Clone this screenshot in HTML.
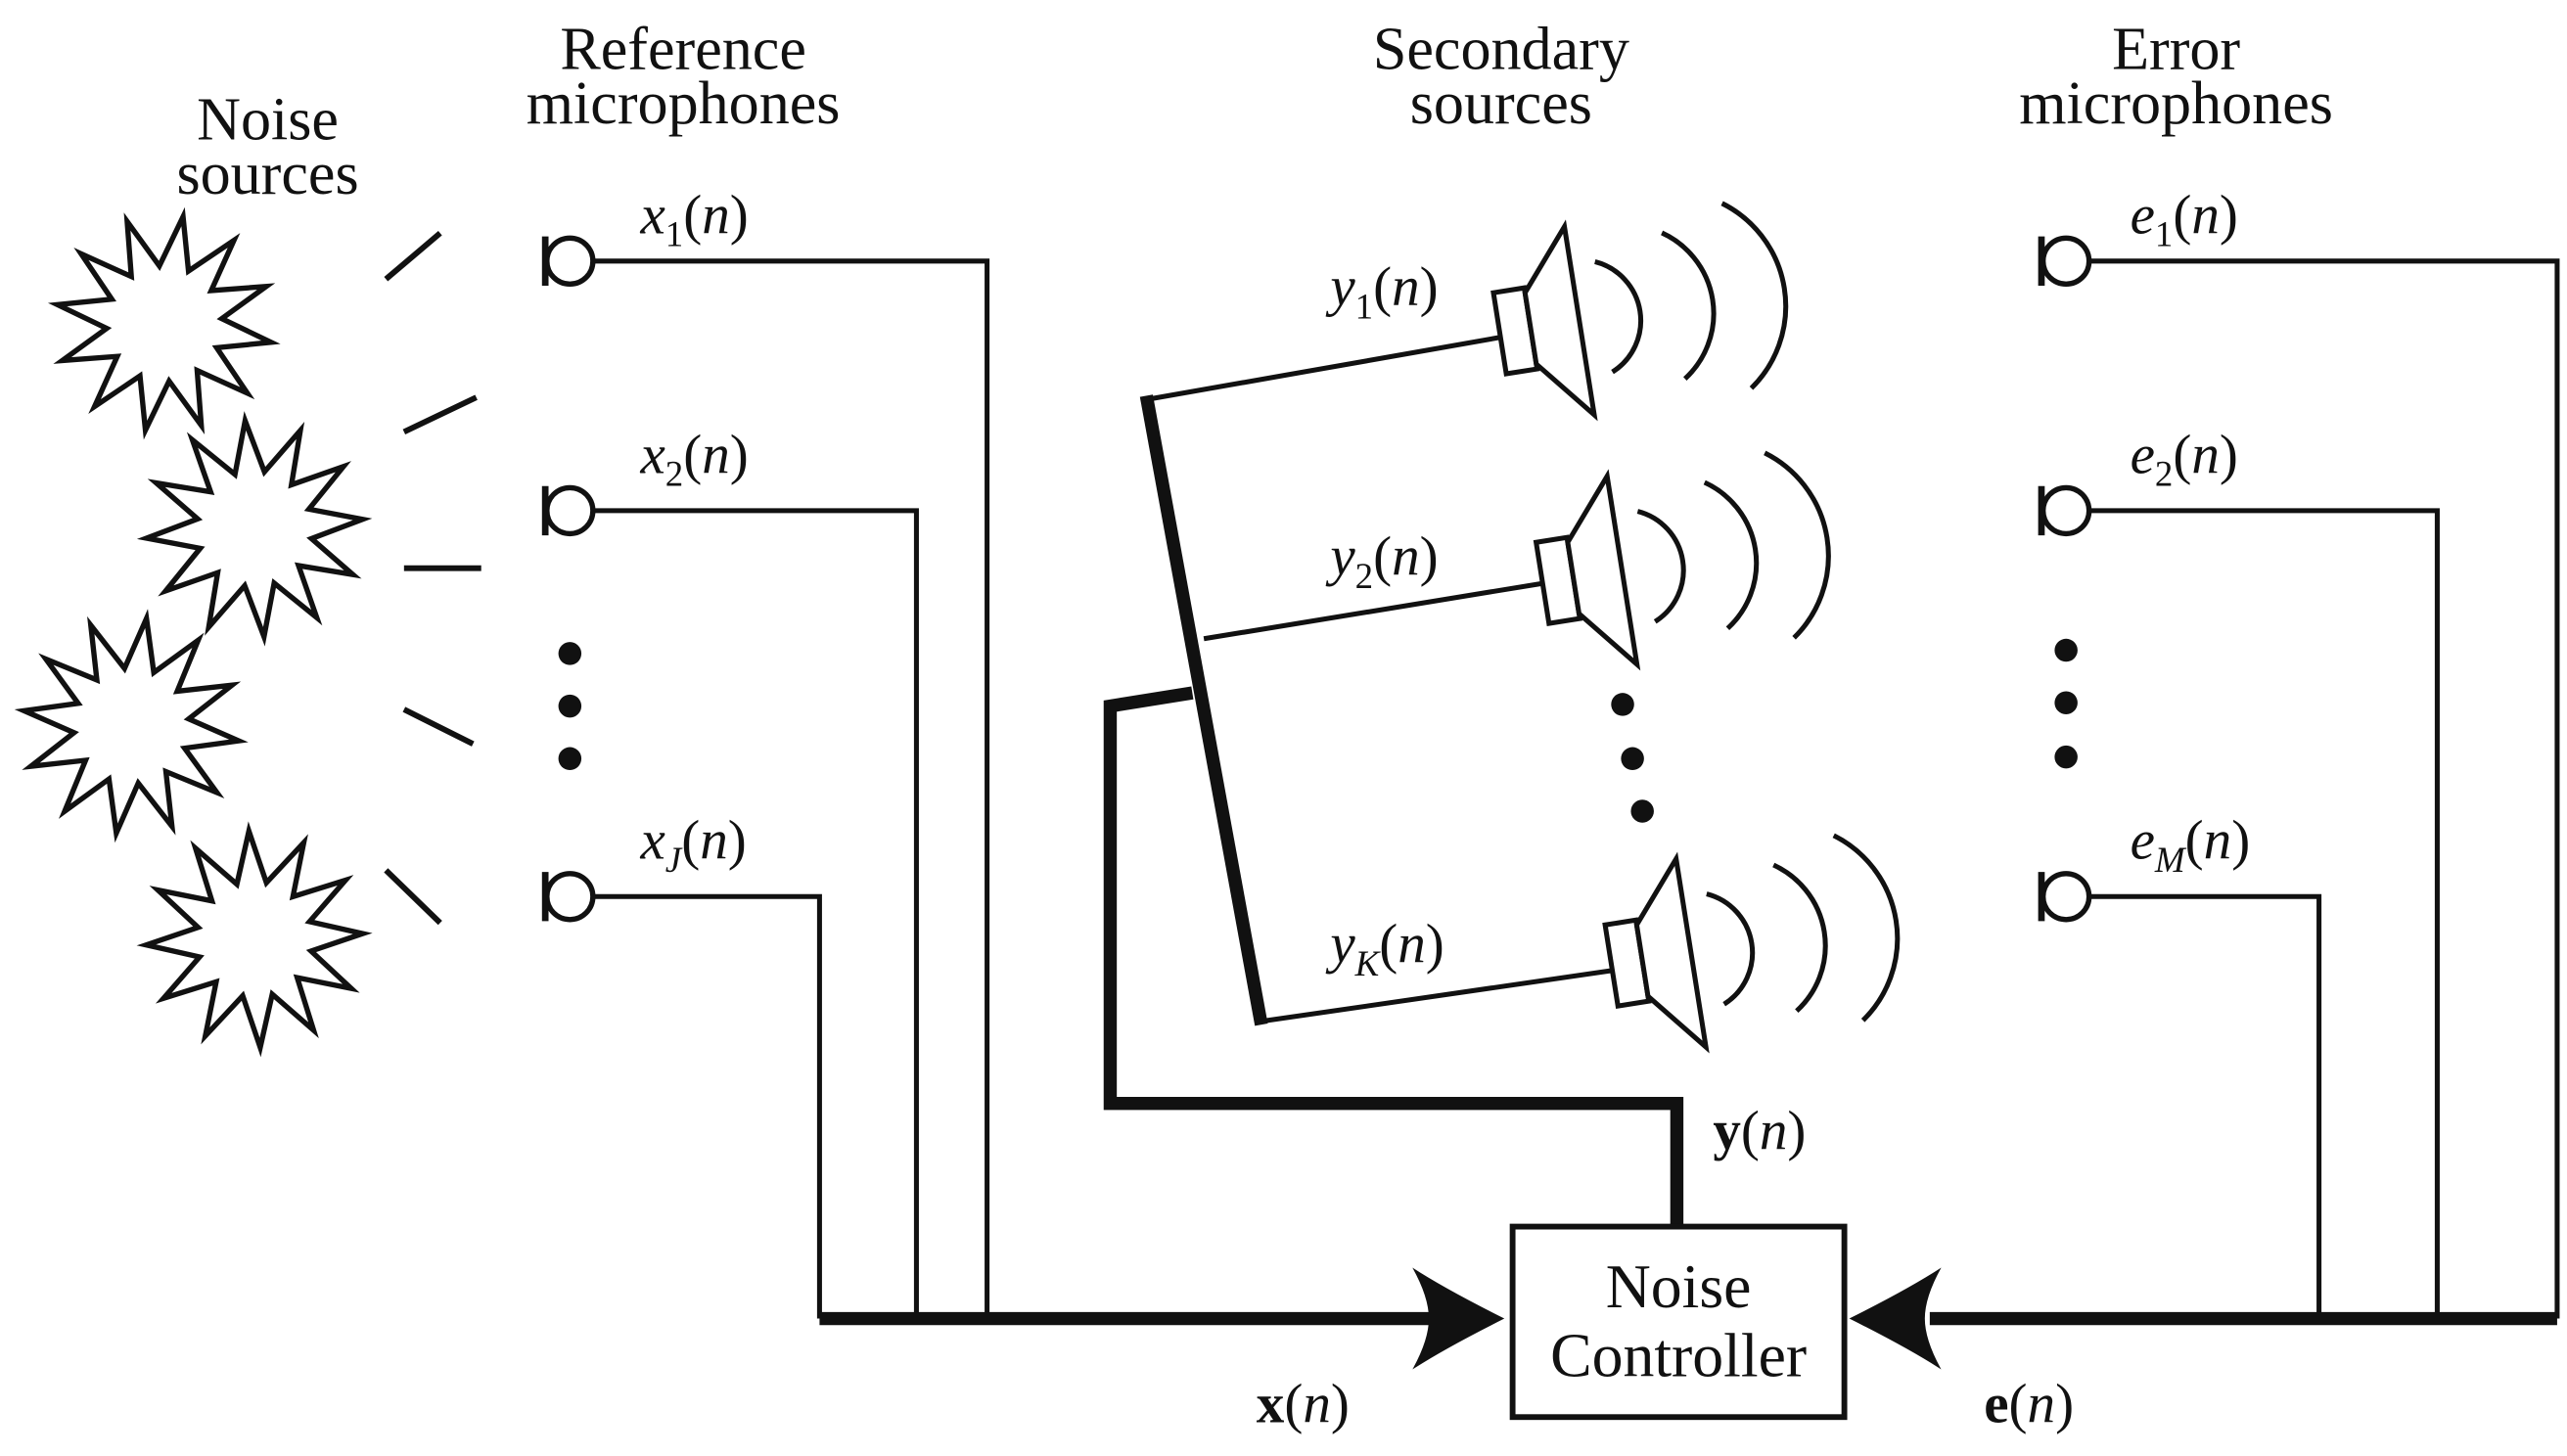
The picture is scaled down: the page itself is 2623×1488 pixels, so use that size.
<!DOCTYPE html>
<html><head><meta charset="utf-8"><style>
html,body{margin:0;padding:0;background:#fff;}
svg{display:block;}
text{font-family:"Liberation Serif","Times New Roman",serif;fill:#111;}
</style></head><body>
<svg width="2623" height="1488" viewBox="0 0 1563 886.7" preserveAspectRatio="none" xmlns="http://www.w3.org/2000/svg">
<defs>
<polygon id="star" points="66,0 34,9 57.2,33 24.7,24.7 33,57.2 9,34 0,66 -9,34 -33,57.2 -24.7,24.7 -57.2,33 -34,9 -66,0 -34,-9 -57.2,-33 -24.7,-24.7 -33,-57.2 -9,-34 0,-66 9,-34 33,-57.2 24.7,-24.7 57.2,-33 34,-9" fill="#fff" stroke="#111" stroke-width="3.2" stroke-linejoin="miter"/>
<g id="spk" fill="#fff" stroke="#111" stroke-width="3">
<polygon points="-19,-25 0,-25 0,25 -19,25"/>
<polygon points="0,-22 30,-58 30,58 0,22"/>
<path d="M45,-34 A37,37 0 0 1 45,34" fill="none"/>
<path d="M88,-45 A54,54 0 0 1 88,45" fill="none"/>
<path d="M127,-57 A70,70 0 0 1 127,57" fill="none"/>
</g>
<g id="mic" fill="#fff" stroke="#111" stroke-width="3.2">
<circle cx="0" cy="0" r="14"/>
<line x1="-15" y1="-15" x2="-15" y2="15" stroke-width="4"/>
</g>
</defs>

<g font-size="37" text-anchor="middle">
<text x="163" y="85">Noise</text><text x="163" y="118">sources</text>
<text x="416" y="42">Reference</text><text x="416" y="75">microphones</text>
<text x="914" y="42">Secondary</text><text x="914" y="75">sources</text>
<text x="1325" y="42">Error</text><text x="1325" y="75">microphones</text>
</g>

<use href="#star" transform="translate(100,197) rotate(10)"/>
<use href="#star" transform="translate(155,322) rotate(-5)"/>
<use href="#star" transform="translate(80,442) rotate(8)"/>
<use href="#star" transform="translate(155,572) rotate(-3)"/>

<g stroke="#111" stroke-width="3.5">
<line x1="235" y1="170" x2="268" y2="142"/>
<line x1="246" y1="263" x2="290" y2="242"/>
<line x1="246" y1="346" x2="293" y2="346"/>
<line x1="246" y1="432" x2="288" y2="453"/>
<line x1="235" y1="530" x2="268" y2="562"/>
</g>

<g fill="none" stroke="#111" stroke-width="3">
<polyline points="361,159 601,159 601,803"/>
<polyline points="361,311 558,311 558,803"/>
<polyline points="361,546 499,546 499,803"/>
<polyline points="1272,159 1557,159 1557,803"/>
<polyline points="1272,311 1484,311 1484,803"/>
<polyline points="1272,546 1412,546 1412,803"/>
</g>
<use href="#mic" transform="translate(347,159)"/>
<use href="#mic" transform="translate(347,311)"/>
<use href="#mic" transform="translate(347,546)"/>
<use href="#mic" transform="translate(1258,159)"/>
<use href="#mic" transform="translate(1258,311)"/>
<use href="#mic" transform="translate(1258,546)"/>
<g fill="#111">
<circle cx="347" cy="398" r="7"/><circle cx="347" cy="430" r="7"/><circle cx="347" cy="462" r="7"/>
<circle cx="1258" cy="396" r="7"/><circle cx="1258" cy="428" r="7"/><circle cx="1258" cy="461" r="7"/>
<circle cx="988" cy="429" r="7"/><circle cx="994" cy="462" r="7"/><circle cx="1000" cy="494" r="7"/>
</g>

<g stroke="#111" stroke-width="8" fill="none">
<line x1="499" y1="803" x2="870" y2="803"/>
<line x1="1175" y1="803" x2="1557" y2="803"/>
<polyline points="1021,746 1021,672 676,672 676,430 726,422" stroke-linejoin="miter"/>
<line x1="698" y1="241" x2="768" y2="624"/>
</g>
<path d="M916,803 Q880,785 860,772 Q870,790 870,803 Q870,816 860,834 Q880,821 916,803 Z" fill="#111"/>
<path d="M1126,803 Q1162,785 1182,772 Q1172,790 1172,803 Q1172,816 1182,834 Q1162,821 1126,803 Z" fill="#111"/>

<g stroke="#111" stroke-width="3">
<line x1="700" y1="243" x2="916" y2="205"/>
<line x1="733" y1="389" x2="941" y2="355"/>
<line x1="768" y1="622" x2="982" y2="591"/>
</g>
<use href="#spk" transform="translate(932,200) rotate(-9)"/>
<use href="#spk" transform="translate(958,352) rotate(-9)"/>
<use href="#spk" transform="translate(1000,585) rotate(-9)"/>

<rect x="921" y="747" width="202" height="116" fill="#fff" stroke="#111" stroke-width="3.5"/>
<g font-size="38" text-anchor="middle">
<text x="1022" y="796">Noise</text><text x="1022" y="838">Controller</text>
</g>

<g font-size="34">
<text x="390" y="142"><tspan font-style="italic">x</tspan><tspan font-size="22" dy="8">1</tspan><tspan dy="-8">(</tspan><tspan font-style="italic">n</tspan>)</text>
<text x="390" y="288"><tspan font-style="italic">x</tspan><tspan font-size="22" dy="8">2</tspan><tspan dy="-8">(</tspan><tspan font-style="italic">n</tspan>)</text>
<text x="390" y="523"><tspan font-style="italic">x</tspan><tspan font-size="22" dy="8" font-style="italic">J</tspan><tspan dy="-8">(</tspan><tspan font-style="italic">n</tspan>)</text>
<text x="1297" y="142"><tspan font-style="italic">e</tspan><tspan font-size="22" dy="8">1</tspan><tspan dy="-8">(</tspan><tspan font-style="italic">n</tspan>)</text>
<text x="1297" y="288"><tspan font-style="italic">e</tspan><tspan font-size="22" dy="8">2</tspan><tspan dy="-8">(</tspan><tspan font-style="italic">n</tspan>)</text>
<text x="1297" y="523"><tspan font-style="italic">e</tspan><tspan font-size="22" dy="8" font-style="italic">M</tspan><tspan dy="-8">(</tspan><tspan font-style="italic">n</tspan>)</text>
<text x="810" y="186"><tspan font-style="italic">y</tspan><tspan font-size="22" dy="8">1</tspan><tspan dy="-8">(</tspan><tspan font-style="italic">n</tspan>)</text>
<text x="810" y="350"><tspan font-style="italic">y</tspan><tspan font-size="22" dy="8">2</tspan><tspan dy="-8">(</tspan><tspan font-style="italic">n</tspan>)</text>
<text x="810" y="586"><tspan font-style="italic">y</tspan><tspan font-size="22" dy="8" font-style="italic">K</tspan><tspan dy="-8">(</tspan><tspan font-style="italic">n</tspan>)</text>
<text x="1043" y="700"><tspan font-weight="bold">y</tspan>(<tspan font-style="italic">n</tspan>)</text>
<text x="765" y="866"><tspan font-weight="bold">x</tspan>(<tspan font-style="italic">n</tspan>)</text>
<text x="1208" y="866"><tspan font-weight="bold">e</tspan>(<tspan font-style="italic">n</tspan>)</text>
</g>
</svg>
</body></html>
